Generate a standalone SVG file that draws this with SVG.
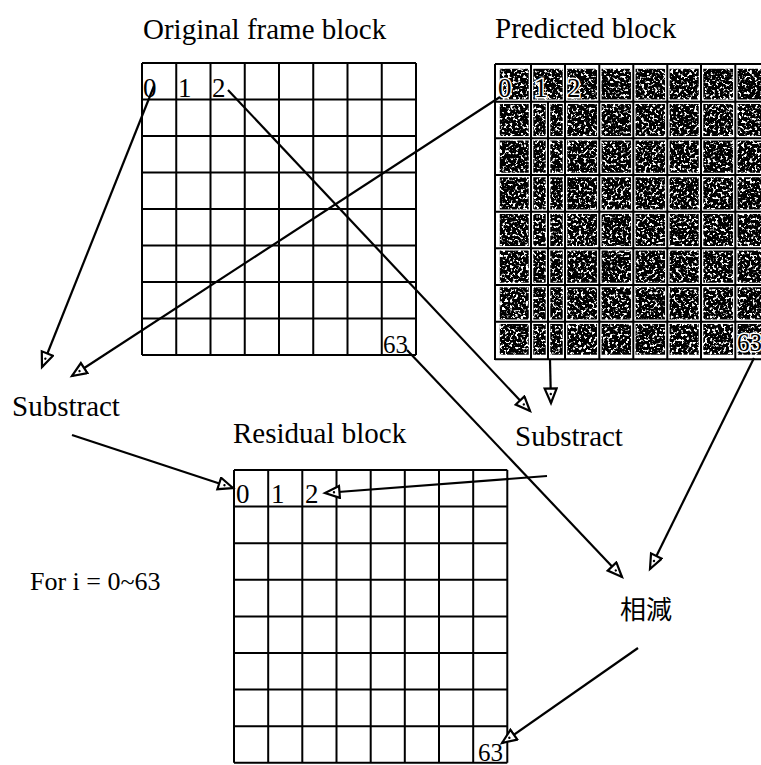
<svg xmlns="http://www.w3.org/2000/svg" width="761" height="765" viewBox="0 0 761 765">
<style>
.t{font-family:"Liberation Serif","Times New Roman",serif;font-size:29px;fill:#000}
.n{font-family:"Liberation Serif","Times New Roman",serif;font-size:27px;fill:#000}
.cjk{font-family:"Noto Sans CJK TC","Noto Sans CJK SC",sans-serif;font-size:26px;fill:#000}
.g{fill:none;stroke:#000;stroke-width:2}
.gw{fill:none;stroke:#fff;stroke-width:4.5}
.c{fill:none;stroke:#000;stroke-width:2.2;marker-end:url(#ah)}
.pn{font-family:"Liberation Serif","Times New Roman",serif;font-size:27px;fill:#000;stroke:#fff;stroke-width:3;paint-order:stroke}
</style>
<defs>
<marker id="ah" markerUnits="userSpaceOnUse" markerWidth="22" markerHeight="18" refX="16" refY="7" orient="auto">
<path d="M1.5,1 L16,7 L1.5,13 Z" fill="#fff" stroke="#000" stroke-width="2.2"/>
<circle cx="7" cy="7" r="1.2" fill="#000"/>
</marker>
<filter id="noise" filterUnits="userSpaceOnUse" x="495" y="64" width="266" height="296" color-interpolation-filters="sRGB">
<feTurbulence type="fractalNoise" baseFrequency="0.38" numOctaves="2" seed="7"/>
<feColorMatrix type="matrix" values="1 0 0 0 0 1 0 0 0 0 1 0 0 0 0 0 0 0 0 1"/>
<feComponentTransfer>
<feFuncR type="linear" slope="9" intercept="-4.9"/>
<feFuncG type="linear" slope="9" intercept="-4.9"/>
<feFuncB type="linear" slope="9" intercept="-4.9"/>
</feComponentTransfer>
</filter>
</defs>
<rect width="761" height="765" fill="#fff"/>

<g id="original-block">
<text class="t" x="143" y="39">Original frame block</text>
<path class="g" d="M142,63V355M176.25,63V355M210.5,63V355M244.75,63V355M279,63V355M313.25,63V355M347.5,63V355M381.75,63V355M416,63V355M142,63H416M142,99.5H416M142,136H416M142,172.5H416M142,209H416M142,245.5H416M142,282H416M142,318.5H416M142,355H416"/>
<text class="n" x="143" y="97">0</text>
<text class="n" x="178" y="97">1</text>
<text class="n" x="212" y="97">2</text>
<text class="n" x="383" y="353" style="font-size:25px">63</text>
</g>

<g id="predicted-block">
<text class="t" x="495" y="38">Predicted block</text>
<rect x="495" y="64" width="270" height="296" fill="#000" filter="url(#noise)"/>
<path class="gw" d="M497.5,64V360M531,64V360M548,101.7V360M565,64V360M599.3,64V360M633.3,64V360M667.3,64V360M701,64V360M735.3,64V360M495,66.5H765M495,101.7H765M495,138.3H765M495,175H765M495,211.7H765M495,248.3H765M495,285H765M495,321.7H765M495,357H765"/>
<path class="g" d="M495,64V360M531,64V360M548,101.7V360M565,64V360M599.3,64V360M633.3,64V360M667.3,64V360M701,64V360M735.3,64V360M495,64H765M495,101.7H765M495,138.3H765M495,175H765M495,211.7H765M495,248.3H765M495,285H765M495,321.7H765M495,359.3H765"/>
<text class="pn" x="498" y="97">0</text>
<text class="pn" x="534" y="97">1</text>
<text class="pn" x="567" y="97">2</text>
<text class="pn" x="737" y="351" style="font-size:25px">63</text>
</g>

<g id="residual-block">
<text class="t" x="233" y="443">Residual block</text>
<path class="g" d="M234,470V762.8M268.2,470V762.8M302.3,470V762.8M336.5,470V762.8M370.7,470V762.8M404.8,470V762.8M439,470V762.8M473.2,470V762.8M507.3,470V762.8M234,470H507.3M234,506.6H507.3M234,543.2H507.3M234,579.8H507.3M234,616.4H507.3M234,653H507.3M234,689.6H507.3M234,726.2H507.3M234,762.8H507.3"/>
<text class="n" x="236" y="503">0</text>
<text class="n" x="271" y="503">1</text>
<text class="n" x="305" y="503">2</text>
<text class="n" x="478" y="761" style="font-size:25px">63</text>
</g>

<g id="substract-left">
<text class="t" x="12" y="416">Substract</text>
</g>
<g id="substract-right">
<text class="t" x="515" y="446">Substract</text>
</g>
<g id="subtract-cjk">
<text class="cjk" x="620" y="619">相減</text>
</g>
<g id="loop-label">
<text class="t" x="30" y="590" style="font-size:26px">For i = 0~63</text>
</g>

<g id="connectors">
<path class="c" d="M154,86L42,367"/>
<path class="c" d="M500,97L72,376"/>
<path class="c" d="M228,90L530,411"/>
<path class="c" d="M407,350L622,577"/>
<path class="c" d="M550,360L551,403"/>
<path class="c" d="M754,358L650,569"/>
<path class="c" d="M72,435L233,488"/>
<path class="c" d="M547,476L325,493"/>
<path class="c" d="M638,648L502,743"/>
</g>
</svg>
